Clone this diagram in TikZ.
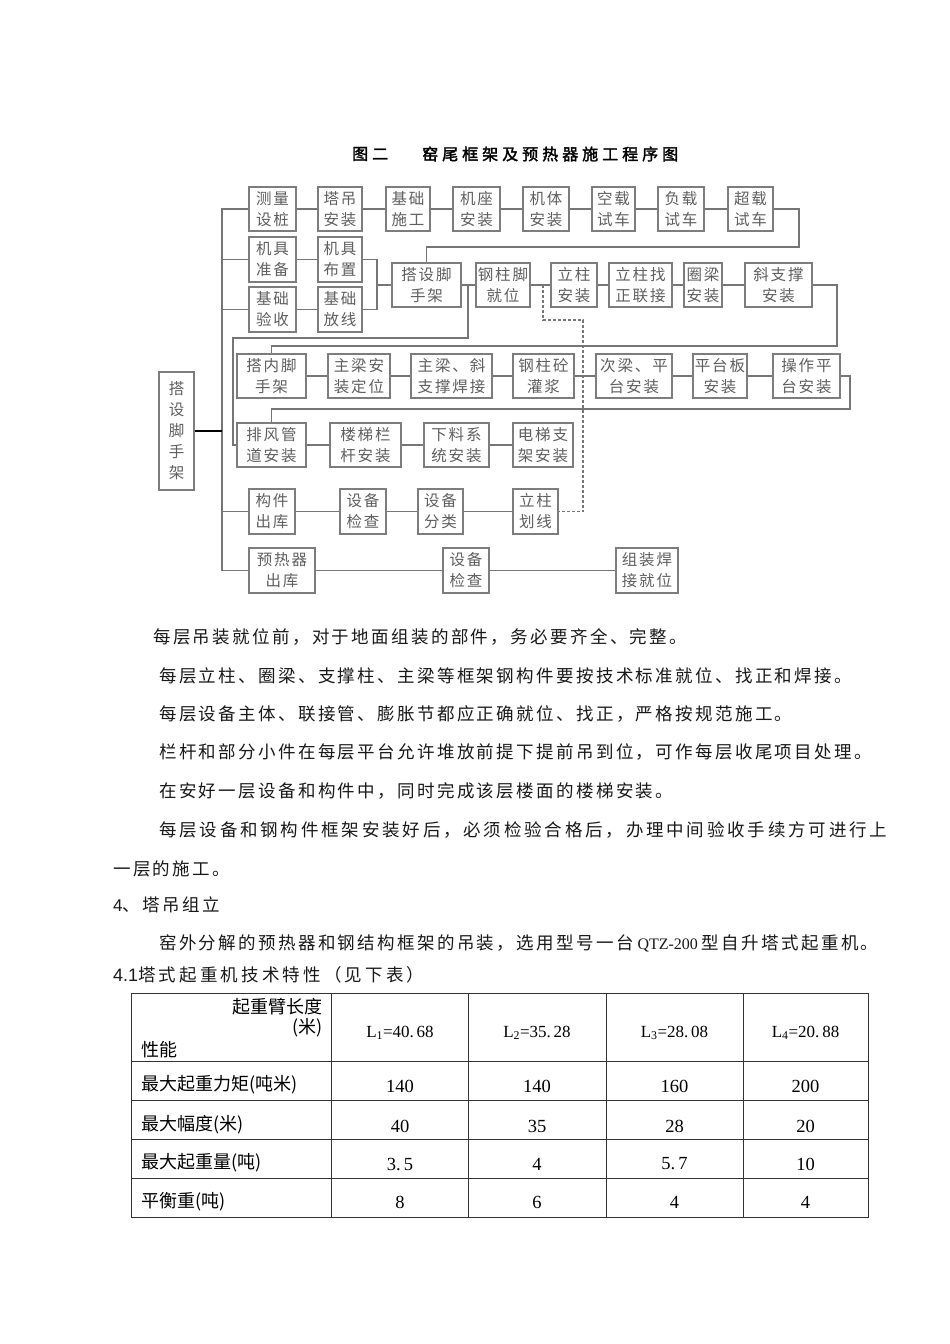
\documentclass[tikz,border=0pt]{standalone}
\usepackage{fontspec}
\setmainfont{Noto Sans CJK SC}
\newfontfamily\bxf[LetterSpace=12]{Noto Sans CJK SC}
\newfontfamily\bodyf[LetterSpace=13.5]{Noto Sans CJK SC}
\newfontfamily\bodyjf[LetterSpace=16]{Noto Sans CJK SC}
\newfontfamily\headf[LetterSpace=18]{Noto Sans CJK SC}
\newfontfamily\titf[LetterSpace=25,FakeBold=2]{Noto Sans CJK SC}
\newfontfamily\tabf{Noto Sans CJK SC}
\newfontfamily\serf{Liberation Serif}
\newfontfamily\sanf{Liberation Sans}
\definecolor{bxc}{RGB}{125,125,125}
\definecolor{bxt}{RGB}{95,95,95}
\definecolor{lnc}{RGB}{118,118,118}
\tikzset{
  bx/.style={draw=bxc, line width=1.4pt, text=bxt, inner sep=0pt, align=center,
    font=\fontsize{15.5}{21}\selectfont\bxf},
  ln/.style={draw=lnc, line width=1.4pt},
  blk/.style={draw=black, line width=1.8pt},
  dsh/.style={draw=lnc, line width=1.4pt, dash pattern=on 3pt off 2pt},
  body/.style={anchor=west, inner sep=0pt, text=black!90, font=\fontsize{17.5}{20}\selectfont\bodyf},
  tbl/.style={draw=black!80, line width=1pt},
  tcell/.style={inner sep=0pt, text=black, font=\fontsize{18}{21}\selectfont\tabf},
  tnum/.style={inner sep=0pt, text=black, font=\fontsize{18.5}{21}\selectfont\serf},
}
\newcommand{\bx}[6]{\node[bx,minimum width={(#3-#2)*1pt},minimum height={(#5-#4)*1pt}] (#1) at ({(#2+#3)/2},{(#4+#5)/2}) {#6};}
\begin{document}
\begin{tikzpicture}[x={(1pt,0pt)},y={(0pt,-1pt)}]
\fill[white] (0,0) rectangle (950,1344);
\useasboundingbox (0,0) rectangle (950,1344);

% title
\node[anchor=west, inner sep=0pt, font=\fontsize{16}{18}\selectfont\titf] (t1) at (352,154) {图二};
\node[anchor=west, inner sep=0pt, font=\fontsize{16}{18}\selectfont\titf] (t2) at (422,154) {窑尾框架及预热器施工程序图};

% boxes row 1
\bx{A1}{249}{296}{187}{231}{测量\\设桩}
\bx{A2}{318}{362}{187}{231}{塔吊\\安装}
\bx{A3}{386}{430}{187}{231}{基础\\施工}
\bx{A4}{453}{500}{187}{231}{机座\\安装}
\bx{A5}{523}{569}{187}{231}{机体\\安装}
\bx{A6}{592}{635}{187}{231}{空载\\试车}
\bx{A7}{658}{704}{187}{231}{负载\\试车}
\bx{A8}{728}{773}{187}{231}{超载\\试车}
% rows 2,3
\bx{B1}{249}{296}{237}{282}{机具\\准备}
\bx{B2}{318}{362}{237}{282}{机具\\布置}
\bx{C1}{249}{296}{287}{332}{基础\\验收}
\bx{C2}{318}{362}{287}{332}{基础\\放线}
% middle row
\bx{M1}{392}{461}{263}{307}{搭设脚\\手架}
\bx{M2}{476}{530}{263}{307}{钢柱脚\\就位}
\bx{M3}{551}{597}{263}{307}{立柱\\安装}
\bx{M4}{609}{672}{263}{307}{立柱找\\正联接}
\bx{M5}{684}{722}{263}{307}{圈梁\\安装}
\bx{M6}{745}{812}{263}{307}{斜支撑\\安装}
% row D
\bx{D1}{237}{306}{354}{398}{搭内脚\\手架}
\bx{D2}{328}{390}{354}{398}{主梁安\\装定位}
\bx{D3}{411}{492}{354}{398}{主梁、斜\\支撑焊接}
\bx{D4}{513}{574}{354}{398}{钢柱砼\\灌浆}
\bx{D5}{596}{672}{354}{398}{次梁、平\\台安装}
\bx{D6}{693}{747}{354}{398}{平台板\\安装}
\bx{D7}{773}{840}{354}{398}{操作平\\台安装}
% row E
\bx{E1}{237}{306}{423}{467}{排风管\\道安装}
\bx{E2}{330}{401}{423}{467}{楼梯栏\\杆安装}
\bx{E3}{424}{489}{423}{467}{下料系\\统安装}
\bx{E4}{513}{573}{423}{467}{电梯支\\架安装}
% row F
\bx{F1}{249}{295}{489}{534}{构件\\出库}
\bx{F2}{340}{386}{489}{534}{设备\\检查}
\bx{F3}{418}{463}{489}{534}{设备\\分类}
\bx{F4}{513}{558}{489}{534}{立柱\\划线}
% row G
\bx{G1}{249}{315}{548}{593}{预热器\\出库}
\bx{G2}{443}{489}{548}{593}{设备\\检查}
\bx{G3}{616}{678}{548}{593}{组装焊\\接就位}
% left node
\bx{L}{159}{194}{372}{490}{搭\\设\\脚\\手\\架}

% coordinates
\coordinate (tk) at (222,0);
\coordinate (r1) at (799,247);
\coordinate (j1) at (377,285);
\coordinate (j2) at (468,285);
\coordinate (j3) at (233,338);
\coordinate (j4) at (543,285);
\coordinate (d1) at (583,320);
\coordinate (r2) at (837,346);
\coordinate (r3) at (850,409);

% trunk
\draw[ln] (A1.west) -- (A1.west -| tk) -- (G1.west -| tk) -- (G1.west);
\draw[ln] (B1.west) -- (B1.west -| tk);
\draw[ln] (C1.west) -- (C1.west -| tk);
\draw[ln] (F1.west) -- (F1.west -| tk);
\draw[blk] (L.east) -- (L.east -| tk);

% row 1 chain
\draw[ln] (A1) -- (A2);
\draw[ln] (A2) -- (A3);
\draw[ln] (A3) -- (A4);
\draw[ln] (A4) -- (A5);
\draw[ln] (A5) -- (A6);
\draw[ln] (A6) -- (A7);
\draw[ln] (A7) -- (A8);
\draw[ln] (A8.east) -| (r1) -| (M1.north);
% rows 2,3
\draw[ln] (B1) -- (B2);
\draw[ln] (C1) -- (C2);
\draw[ln] (B2.east) -| (j1) |- (C2.east);
\draw[ln] (j1) -- (M1.west);
% middle chain
\draw[ln] (M1) -- (M2);
\draw[ln] (j2) |- (j3) |- (E1.west);
\draw[ln] (M2) -- (M3);
\draw[ln] (M3) -- (M4);
\draw[ln] (M4) -- (M5);
\draw[ln] (M5) -- (M6);
\draw[dsh] (j4) |- (d1) |- (F4.east);
\draw[ln] (M6.east) -| (r2) -| (D1.north);
% row D
\draw[ln] (D1) -- (D2);
\draw[ln] (D2) -- (D3);
\draw[ln] (D3) -- (D4);
\draw[ln] (D4) -- (D5);
\draw[ln] (D5) -- (D6);
\draw[ln] (D6) -- (D7);
\draw[ln] (D7.east) -| (r3) -| (E1.north);
% row E
\draw[ln] (E1) -- (E2);
\draw[ln] (E2) -- (E3);
\draw[ln] (E3) -- (E4);
% row F
\draw[ln] (F1) -- (F2);
\draw[ln] (F2) -- (F3);
\draw[ln] (F3) -- (F4);
% row G
\draw[ln] (G1) -- (G2);
\draw[ln] (G2) -- (G3);

% body text
\node[body] (p1) at (153,637) {每层吊装就位前，对于地面组装的部件，务必要齐全、完整。};
\node[body] (p2) at (159,675.5) {每层立柱、圈梁、支撑柱、主梁等框架钢构件要按技术标准就位、找正和焊接。};
\node[body] (p3) at (159,714) {每层设备主体、联接管、膨胀节都应正确就位、找正，严格按规范施工。};
\node[body] (p4) at (159,752.5) {栏杆和部分小件在每层平台允许堆放前提下提前吊到位，可作每层收尾项目处理。};
\node[body] (p5) at (159,791) {在安好一层设备和构件中，同时完成该层楼面的楼梯安装。};
\node[body, font=\fontsize{17.5}{20}\selectfont\bodyjf] (p6) at (159,830) {每层设备和钢构件框架安装好后，必须检验合格后，办理中间验收手续方可进行上};
\node[body] (p7) at (113,869) {一层的施工。};
\node[body] (p8) at (113,905) {{\sanf\fontsize{17}{20}\selectfont 4}、塔吊组立};
\node[body] (p9) at (159,943) {窑外分解的预热器和钢结构框架的吊装，选用型号一台\hspace{4pt}{\serf\fontsize{16}{18}\selectfont QTZ-200}\hspace{4pt}型自升塔式起重机。};
\node[body, font=\fontsize{17.5}{20}\selectfont\headf] (h41) at (113,975) {{\sanf\fontsize{18}{20}\selectfont 4.1}塔式起重机技术特性（见下表）};

% table
\draw[tbl] (131,993) rectangle (868,1217);
\foreach \yy in {1061,1100,1139,1178} { \draw[tbl] (131,\yy) -- (868,\yy); }
\foreach \xx in {331,468,606,743} { \draw[tbl] (\xx,993) -- (\xx,1217); }

\node[tcell, anchor=east] (hc1) at (323,1007) {起重臂长度};
\node[tcell, anchor=east] (hc2) at (323,1028) {(米)};
\node[tcell, anchor=west] (hc3) at (141,1050) {性能};
\node[tnum, font=\fontsize{17}{20}\selectfont\serf] (l1) at (400,1033) {L\textsubscript{1}=40.\,68};
\node[tnum, font=\fontsize{17}{20}\selectfont\serf] (l2) at (537,1033) {L\textsubscript{2}=35.\,28};
\node[tnum, font=\fontsize{17}{20}\selectfont\serf] (l3) at (674.5,1033) {L\textsubscript{3}=28.\,08};
\node[tnum, font=\fontsize{17}{20}\selectfont\serf] (l4) at (805.5,1033) {L\textsubscript{4}=20.\,88};

\node[tcell, anchor=west] (r1l) at (141,1085) {最大起重力矩(吨米)};
\node[tcell, anchor=west] (r2l) at (141,1125) {最大幅度(米)};
\node[tcell, anchor=west] (r3l) at (141,1163) {最大起重量(吨)};
\node[tcell, anchor=west] (r4l) at (141,1202) {平衡重(吨)};

\node[tnum] (v11) at (400,1086) {140};
\node[tnum] (v12) at (537,1086) {140};
\node[tnum] (v13) at (674.5,1086) {160};
\node[tnum] (v14) at (805.5,1086) {200};
\node[tnum] (v21) at (400,1126) {40};
\node[tnum] (v22) at (537,1126) {35};
\node[tnum] (v23) at (674.5,1126) {28};
\node[tnum] (v24) at (805.5,1126) {20};
\node[tnum] (v31) at (400,1164) {3.\,5};
\node[tnum] (v32) at (537,1164) {4};
\node[tnum] (v33) at (674.5,1164) {5.\,7};
\node[tnum] (v34) at (805.5,1164) {10};
\node[tnum] (v41) at (400,1202) {8};
\node[tnum] (v42) at (537,1202) {6};
\node[tnum] (v43) at (674.5,1202) {4};
\node[tnum] (v44) at (805.5,1202) {4};
\end{tikzpicture}
\end{document}
